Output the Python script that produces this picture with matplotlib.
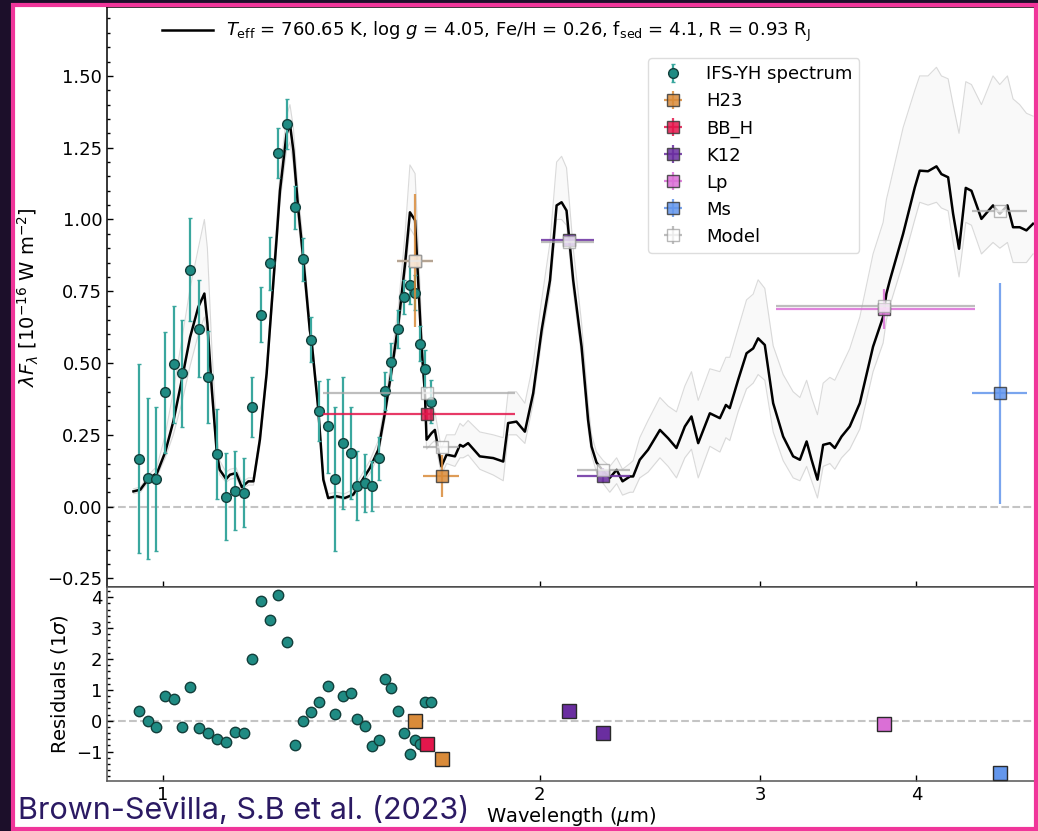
import matplotlib
matplotlib.use('Agg')
import matplotlib.pyplot as plt
from matplotlib.patches import Rectangle
from matplotlib.ticker import FixedLocator, NullLocator, MultipleLocator, FixedFormatter

# IFS-YH spectrum (wavelength in micron, lambda*F_lambda in 1e-16 W m^-2)
spec_wl = [0.957, 0.973, 0.988, 1.004, 1.020, 1.035, 1.051, 1.068, 1.086, 1.104,
           1.122, 1.141, 1.160, 1.178, 1.197, 1.217, 1.236, 1.256, 1.275, 1.294,
           1.314, 1.333, 1.354, 1.373, 1.392, 1.412, 1.430, 1.450, 1.468, 1.487,
           1.504, 1.522, 1.540, 1.557, 1.575, 1.590, 1.605, 1.620, 1.637]
spec_flux = [0.167, 0.098, 0.097, 0.398, 0.495, 0.464, 0.825, 0.620, 0.452, 0.184,
             0.035, 0.056, 0.048, 0.347, 0.669, 0.847, 1.231, 1.334, 1.043, 0.861,
             0.581, 0.334, 0.280, 0.096, 0.221, 0.186, 0.073, 0.082, 0.073, 0.168,
             0.402, 0.505, 0.617, 0.730, 0.772, 0.745, 0.568, 0.479, 0.366]
spec_err = [0.33, 0.28, 0.25, 0.21, 0.205, 0.187, 0.18, 0.17, 0.16, 0.156,
            0.15, 0.137, 0.12, 0.104, 0.095, 0.093, 0.087, 0.087, 0.075, 0.075,
            0.078, 0.104, 0.163, 0.25, 0.23, 0.16, 0.12, 0.10, 0.087, 0.075,
            0.066, 0.065, 0.066, 0.06, 0.065, 0.06, 0.06, 0.065, 0.075]
spec_resid = [0.30, 0.0, -0.2, 0.79, 0.70, -0.2, 1.10, -0.22, -0.41, -0.59,
              -0.68, -0.36, -0.39, 2.0, 3.88, 3.25, 4.07, 2.54, -0.78, 0.0,
              0.29, 0.60, 1.12, 0.21, 0.79, 0.89, 0.05, -0.18, -0.82, -0.61,
              1.36, 1.05, 0.31, -0.41, -1.06, -0.63, -0.74, 0.62, 0.62]

# best-fit model spectrum and the spread of the posterior model draws
model_wl = [0.947, 0.959, 0.973, 0.989, 1.004, 1.019, 1.035, 1.051, 1.067, 1.079,
            1.085, 1.094, 1.104, 1.110, 1.123, 1.131, 1.144, 1.156, 1.170, 1.181,
            1.195, 1.210, 1.217, 1.232, 1.240, 1.255, 1.263, 1.271, 1.282, 1.294,
            1.310, 1.314, 1.330, 1.343, 1.355, 1.376, 1.397, 1.419, 1.441, 1.463,
            1.486, 1.504, 1.523, 1.542, 1.561, 1.575, 1.590, 1.599, 1.609, 1.619,
            1.624, 1.639, 1.649, 1.669, 1.685, 1.711, 1.727, 1.737, 1.753, 1.791,
            1.836, 1.870, 1.887, 1.916, 1.946, 1.976, 2.007, 2.038, 2.063, 2.082,
            2.101, 2.127, 2.160, 2.186, 2.200, 2.220, 2.248, 2.275, 2.304, 2.329,
            2.361, 2.375, 2.404, 2.441, 2.495, 2.533, 2.572, 2.612, 2.644, 2.677,
            2.735, 2.786, 2.817, 2.837, 2.881, 2.926, 2.962, 2.989, 3.026, 3.073,
            3.130, 3.188, 3.228, 3.268, 3.298, 3.334, 3.369, 3.411, 3.442, 3.485,
            3.538, 3.604, 3.693, 3.762, 3.785, 3.809, 3.903, 3.988, 4.024, 4.086,
            4.150, 4.188, 4.240, 4.279, 4.326, 4.380, 4.426, 4.508, 4.605, 4.663,
            4.729, 4.778, 4.837, 4.897, 4.957]
model_flux = [0.053, 0.059, 0.096, 0.117, 0.190, 0.296, 0.440, 0.590, 0.695, 0.742,
              0.638, 0.406, 0.186, 0.128, 0.096, 0.111, 0.117, 0.068, 0.088, 0.088,
              0.233, 0.464, 0.615, 0.927, 1.100, 1.297, 1.332, 1.240, 1.043, 0.869,
              0.615, 0.580, 0.348, 0.094, 0.030, 0.036, 0.030, 0.042, 0.088, 0.134,
              0.198, 0.325, 0.476, 0.638, 0.846, 1.025, 0.997, 0.788, 0.557, 0.395,
              0.233, 0.256, 0.267, 0.140, 0.181, 0.175, 0.215, 0.209, 0.221, 0.175,
              0.169, 0.157, 0.291, 0.296, 0.261, 0.395, 0.615, 0.788, 1.049, 1.060,
              1.031, 0.788, 0.557, 0.302, 0.209, 0.154, 0.123, 0.100, 0.128, 0.088,
              0.105, 0.105, 0.163, 0.198, 0.267, 0.238, 0.204, 0.279, 0.314, 0.221,
              0.325, 0.308, 0.354, 0.343, 0.441, 0.534, 0.551, 0.586, 0.563, 0.360,
              0.244, 0.175, 0.163, 0.227, 0.163, 0.094, 0.215, 0.221, 0.204, 0.244,
              0.279, 0.360, 0.557, 0.661, 0.742, 0.788, 0.950, 1.112, 1.170, 1.168,
              1.185, 1.158, 1.147, 1.020, 0.898, 1.110, 1.100, 1.002, 1.049, 1.020,
              1.049, 0.973, 0.973, 0.962, 0.985]
draws_hi = [0.062, 0.068, 0.11, 0.14, 0.25, 0.40, 0.58, 0.76, 0.90, 1.00,
            0.90, 0.55, 0.25, 0.16, 0.12, 0.13, 0.135, 0.085, 0.10, 0.10,
            0.25, 0.49, 0.65, 0.98, 1.16, 1.36, 1.40, 1.32, 1.10, 0.92,
            0.65, 0.61, 0.37, 0.11, 0.045, 0.05, 0.045, 0.06, 0.11, 0.16,
            0.23, 0.36, 0.52, 0.70, 0.95, 1.19, 1.16, 0.92, 0.64, 0.45,
            0.30, 0.32, 0.33, 0.20, 0.25, 0.25, 0.29, 0.28, 0.30, 0.26,
            0.25, 0.24, 0.40, 0.40, 0.36, 0.50, 0.72, 0.92, 1.20, 1.22,
            1.18, 0.90, 0.64, 0.36, 0.25, 0.19, 0.16, 0.14, 0.17, 0.13,
            0.15, 0.16, 0.24, 0.30, 0.38, 0.35, 0.33, 0.42, 0.47, 0.37,
            0.48, 0.47, 0.52, 0.52, 0.62, 0.72, 0.74, 0.79, 0.76, 0.56,
            0.46, 0.40, 0.38, 0.44, 0.38, 0.32, 0.43, 0.45, 0.44, 0.49,
            0.55, 0.66, 0.88, 0.99, 1.07, 1.12, 1.32, 1.45, 1.50, 1.50,
            1.53, 1.50, 1.49, 1.40, 1.30, 1.48, 1.47, 1.40, 1.50, 1.47,
            1.50, 1.42, 1.40, 1.37, 1.36]
draws_lo = [0.045, 0.050, 0.085, 0.105, 0.17, 0.25, 0.36, 0.49, 0.60, 0.66,
            0.58, 0.37, 0.17, 0.11, 0.085, 0.095, 0.10, 0.06, 0.075, 0.075,
            0.21, 0.44, 0.59, 0.89, 1.06, 1.24, 1.27, 1.19, 1.00, 0.83,
            0.59, 0.555, 0.33, 0.085, 0.025, 0.03, 0.025, 0.035, 0.075, 0.115,
            0.175, 0.30, 0.45, 0.60, 0.80, 0.97, 0.94, 0.74, 0.52, 0.36,
            0.20, 0.22, 0.23, 0.11, 0.15, 0.14, 0.17, 0.17, 0.18, 0.13,
            0.11, 0.09, 0.25, 0.25, 0.22, 0.36, 0.58, 0.75, 1.00, 1.00,
            0.98, 0.75, 0.52, 0.27, 0.18, 0.12, 0.08, 0.05, 0.08, 0.04,
            0.05, 0.05, 0.10, 0.12, 0.17, 0.14, 0.10, 0.17, 0.20, 0.10,
            0.21, 0.19, 0.24, 0.23, 0.33, 0.41, 0.43, 0.46, 0.44, 0.26,
            0.16, 0.10, 0.09, 0.14, 0.09, 0.03, 0.14, 0.15, 0.13, 0.17,
            0.20, 0.27, 0.47, 0.57, 0.65, 0.70, 0.85, 1.00, 1.06, 1.05,
            1.06, 1.04, 1.03, 0.92, 0.80, 0.99, 0.98, 0.88, 0.92, 0.90,
            0.92, 0.85, 0.85, 0.85, 0.88]

# photometry: one entry per band
phot_names = ['H23', 'BB_H', 'K12', 'Lp', 'Ms']
phot_wl = [[1.589, 1.670], [1.624], [2.110, 2.247], [3.768], [4.662]]
phot_wl_lo = [[1.537, 1.614], [1.341], [2.006, 2.140], [3.091], [4.430]]
phot_wl_hi = [[1.644, 1.725], [1.910], [2.210, 2.360], [4.452], [4.900]]
phot_flux = [[0.857, 0.107], [0.323], [0.927, 0.108], [0.688], [0.395]]
phot_err = [[0.23, 0.072], [0.02], [0.01, 0.025], [0.07], [0.385]]
phot_model = [[0.857, 0.209], [0.397], [0.920, 0.128], [0.697], [1.030]]
phot_resid = [[0.0, -1.24], [-0.76], [0.30, -0.41], [-0.10], [-1.68]]
phot_colors = ['#d98b3a', '#e3174c', '#6a2ea0', '#da6fd6', '#6396ec']

xticks = [1, 2, 3, 4]

teal = '#1f8b83'
teal_err = '#3aa79e'

W, H = 1038, 831
fig = plt.figure(figsize=(W / 100, H / 100), dpi=100, facecolor='#1c0f2a')


def fbox(x0, y0, x1, y1):
    return [x0 / W, 1 - y1 / H, (x1 - x0) / W, (y1 - y0) / H]


# slide panel behind the figure
b = fbox(13, 5, 1036, 829)
fig.add_artist(Rectangle((b[0], b[1]), b[2], b[3], transform=fig.transFigure,
                         facecolor='white', edgecolor='none', zorder=-1))
fig.add_artist(Rectangle((b[0], b[1]), b[2], b[3], transform=fig.transFigure,
                         facecolor='none', edgecolor='#f0359a', lw=3, zorder=10))

ax = fig.add_axes(fbox(107, 7, 1035, 587))
rax = fig.add_axes(fbox(107, 587, 1035, 781), sharex=ax)

# ---- main panel
ax.fill_between(model_wl, draws_lo, draws_hi, color='#a0a0a0', alpha=0.06, lw=0, zorder=1)
ax.plot(model_wl, draws_hi, color='#bdbdbd', lw=0.8, alpha=0.55, zorder=1)
ax.plot(model_wl, draws_lo, color='#bdbdbd', lw=0.8, alpha=0.55, zorder=1)
best, = ax.plot(model_wl, model_flux, color='black', lw=1.8, zorder=3,
                label=r'$T_{\rm eff}$ = 760.65 K, log $g$ = 4.05, Fe/H = 0.26, '
                      r'f$_{\rm sed}$ = 4.1, R = 0.93 R$_{\rm J}$')
ax.axhline(0, color='#c4c4c4', ls='--', lw=1.5, zorder=0)

spec = ax.errorbar(spec_wl, spec_flux, yerr=spec_err, fmt='o', ms=7, mfc=teal,
                   mec='#123f3b', mew=1.0, ecolor=teal_err, elinewidth=1.6,
                   capsize=1.5, label='IFS-YH spectrum', zorder=4)

handles = [spec]
all_wl, all_lo, all_hi = [], [], []
for name, wl, lo, hi, fl, er, col in zip(phot_names, phot_wl, phot_wl_lo, phot_wl_hi,
                                          phot_flux, phot_err, phot_colors):
    xerr = [[w - l for w, l in zip(wl, lo)], [h - w for w, h in zip(wl, hi)]]
    h = ax.errorbar(wl, fl, xerr=xerr, yerr=er, fmt='s', ms=9, mfc=col, mec='#3a3a3a',
                    mew=1.0, ecolor=col, elinewidth=1.6, alpha=0.85, label=name, zorder=5)
    handles.append(h)
    all_wl += wl
    all_lo += xerr[0]
    all_hi += xerr[1]

all_model = [m for band in phot_model for m in band]
mod = ax.errorbar(all_wl, all_model, xerr=[all_lo, all_hi], yerr=[0] * len(all_wl),
                  fmt='s', ms=9, mfc='white', mec='#a0a0a0', mew=1.0, ecolor='#a8a8a8',
                  elinewidth=1.6, alpha=0.75, label='Model', zorder=6)
handles.append(mod)

leg = ax.legend(handles=handles, loc='upper left', bbox_to_anchor=(0.583, 0.912),
                borderaxespad=0, fontsize=13, frameon=True, framealpha=1,
                edgecolor='#dddddd')
ax.add_artist(leg)
ax.legend(handles=[best], loc='upper left', bbox_to_anchor=(0.052, 0.99),
          borderaxespad=0, frameon=False, fontsize=13, handlelength=2.8,
          handletextpad=0.7)

ax.set_xscale('log')
ax.set_xlim(0.902, 4.975)
ax.set_ylim(-0.28, 1.74)
ax.yaxis.set_major_locator(MultipleLocator(0.25))
ax.yaxis.set_minor_locator(MultipleLocator(0.05))
ax.set_ylabel(r'$\lambda F_\lambda$ [10$^{-16}$ W m$^{-2}$]', fontsize=14)

# ---- residual panel
rax.axhline(0, color='#c4c4c4', ls='--', lw=1.5, zorder=0)
rax.plot(spec_wl, spec_resid, 'o', ms=7.5, mfc=teal, mec='#123f3b', mew=1.0, zorder=4)
for wl, res, col in zip(phot_wl, phot_resid, phot_colors):
    rax.plot(wl, res, 's', ms=9.5, mfc=col, mec='#2a2a2a', mew=1.0, zorder=5)
rax.set_ylim(-1.95, 4.33)
rax.yaxis.set_major_locator(MultipleLocator(1))
rax.yaxis.set_minor_locator(MultipleLocator(0.2))
rax.set_ylabel(r'Residuals (1$\sigma$)', fontsize=14)
rax.set_xlabel(r'Wavelength ($\mu$m)', fontsize=14, labelpad=1)

for a in (ax, rax):
    a.xaxis.set_major_locator(FixedLocator(xticks))
    a.xaxis.set_minor_locator(NullLocator())
    a.tick_params(which='both', direction='in', labelsize=13, width=1.0)
    a.tick_params(which='major', length=4)
    a.tick_params(which='minor', length=2.5)
    for s in a.spines.values():
        s.set_linewidth(1.1)
rax.xaxis.set_major_formatter(FixedFormatter([str(t) for t in xticks]))
ax.tick_params(axis='x', labelbottom=False)
for s in rax.spines.values():
    s.set_color('#555555')

# citation written across the lower-left corner of the slide
fig.text(18 / W, 1 - 811 / H, 'Brown-Sevilla, S.B et al. (2023)', fontsize=22,
         family='Inter', color='#2b1a63', va='center', ha='left', zorder=11)

fig.savefig('out.png', dpi=100, facecolor=fig.get_facecolor())
